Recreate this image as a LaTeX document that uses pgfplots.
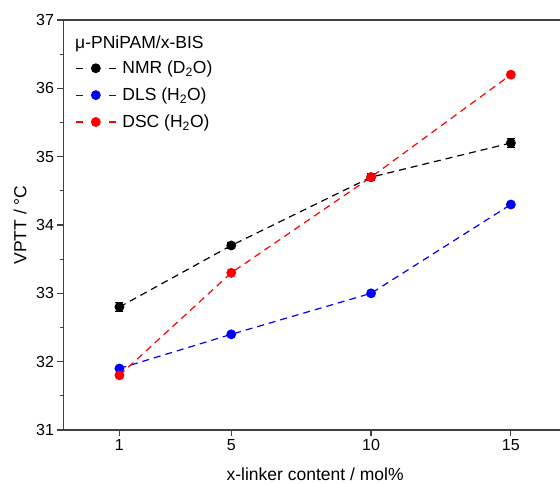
\documentclass[border=0pt]{standalone}
\usepackage{fontspec}
\setmainfont{Liberation Sans}
\usepackage{pgfplots}
\pgfplotsset{compat=1.18}

\begin{document}
\begin{tikzpicture}
\begin{axis}[
  name=ax,
  scale only axis, width=503.3pt, height=410pt,
  xmin=-1, xmax=17, ymin=31, ymax=37,
  xtick={1,5,10,15}, ytick={31,32,...,37},
  minor y tick num=1,
  xtick pos=bottom, ytick pos=left, tick align=outside,
  major tick length=6pt, minor tick length=3.5pt,
  axis line style={black!75, line width=1.2pt},
  every tick/.style={black!75, line width=1.2pt},
  tick label style={font=\fontsize{16}{19}\selectfont},
  /pgf/number format/assume math mode=true,
  xlabel={x-linker content / mol\%}, ylabel={VPTT / °C},
  label style={font=\fontsize{17.5}{21}\selectfont},
  xlabel style={at={(axis description cs:0.5,-0.108)}, anchor=center},
  ylabel style={at={(axis description cs:-0.0864,0.5)}, anchor=center, rotate=0},
  legend cell align=left,
  legend style={at={(axis description cs:0.0229,0.905)}, anchor=north west,
    draw=none, fill=none, inner sep=0pt, row sep=8.7pt,
    font=\fontsize{17.5}{21}\selectfont},
  legend image code/.code={
    \draw[#1, dash pattern=on 7pt off 26pt] (0pt,0pt) -- (40pt,0pt);
    \draw[#1, solid] plot coordinates {(20pt,0pt)};
    \path (44pt,0pt);
  },
  every axis plot/.append style={line width=1.2pt, dash pattern=on 7pt off 5pt,
    mark=*, mark size=4.3pt, mark options={solid}},
]
  \addplot[black, error bars/.cd, y dir=both, y explicit,
    error bar style={solid, line width=1pt},
    error mark options={rotate=90, mark size=4pt, line width=1pt}]
    coordinates {(1,32.8) +- (0,0.07) (5,33.7) +- (0,0.05) (10,34.7) +- (0,0.05) (15,35.2) +- (0,0.07)};
  \addlegendentry{NMR (D\textsubscript{2}O)}
  \addplot[blue] coordinates {(1,31.9) (5,32.4) (10,33.0) (15,34.3)};
  \addlegendentry{DLS (H\textsubscript{2}O)}
  \addplot[red] coordinates {(1,31.8) (5,33.3) (10,34.7) (15,36.2)};
  \addlegendentry{DSC (H\textsubscript{2}O)}
  \node[anchor=west, inner sep=0pt, font=\fontsize{17.5}{21}\selectfont] at (axis description cs:0.0229,0.9415) {μ-PNiPAM/x-BIS};
\end{axis}
\pgfresetboundingbox
\path[use as bounding box] ([xshift=-63.5pt,yshift=-54pt]ax.south west) rectangle ([xshift=496.5pt,yshift=20pt]ax.north west);
\end{tikzpicture}
\end{document}
